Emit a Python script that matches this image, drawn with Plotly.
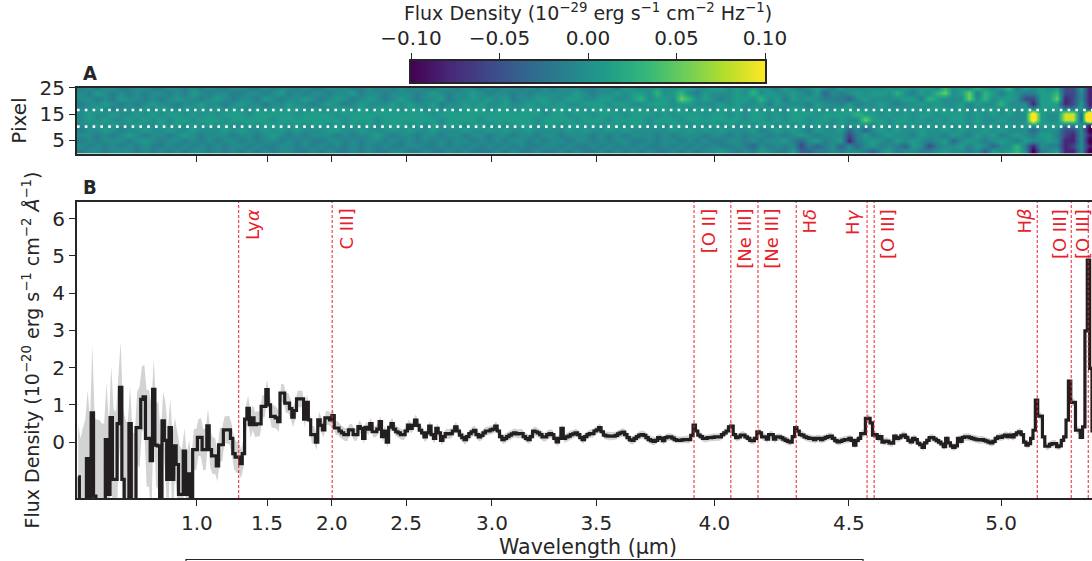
import plotly.graph_objects as go

# ---------- spectrum (one value per spectral channel) ----------
flux_a = [-0.93,-1.6,-1.6,-1.6,-0.44,-1.6,0.79,-1.45,-1.6,-1.6,
 -1.6,-1.6,0.07,-1.4,0.66,-1.0,-1.0,0.5,1.47,-1.0,
 -1.6,-1.6,0.5,-1.55,-1.55,0.39,0.39,1.15,1.22,0.1,
 0.1,-0.5,1.42,-0.08,-0.1,-1.6,0.57,0.05,-1.0,0.39,
 -1.0,-0.1,-0.6,-1.4,-1.4,-0.24,-1.4,-0.85,-1.5,-0.2]
flux_b = [-0.2,0.13,0.13,-0.2,-0.2,0.44,-0.2,-0.37,-0.37,-0.64,
 -0.07,-0.07,0.33,0.33,0.33,0.1,-0.31,-0.4,-0.4,-0.58,
 -0.31,0.62,0.91,0.47,0.65,0.47,0.49,0.49,0.96,0.96,
 1.41,1.0,0.69,0.69,0.65,0.55,1.32,1.32,1.05,1.05,
 0.9,0.67,0.85,1.16,1.16,1.16,0.62,1.07,0.6,0.2,
 0.2,0.0,0.6,0.45,0.33,0.65,0.65,0.6,0.71,0.38,
 0.38,0.3,0.25,0.2,0.2,0.33,0.33,0.2,0.2,0.42]
flux_c = [0.37,0.1,0.4,0.35,0.5,0.28,0.28,0.35,0.55,0.15,
 0.3,0.0,0.4,0.5,0.35,0.28,0.25,0.2,0.2,0.3,
 0.46,0.37,0.45,0.59,0.45,0.32,0.25,0.14,0.25,0.43,
 0.2,0.1,0.37,0.25,0.05,0.15,0.23,0.22,0.23,0.3,
 0.41,0.3,0.19,0.12,0.07,0.15,0.23,0.28,0.32,0.2,
 0.14,0.18,0.25,0.3,0.3,0.33,0.35,0.43,0.3,0.15,
 0.07,0.1,0.15,0.19,0.22,0.25,0.22,0.23,0.23,0.15,
 0.1,0.07,0.15,0.3,0.28,0.25,0.2,0.14,0.14,0.2,
 0.23,0.2,0.1,0.01,0.1,0.37,0.1,0.14,0.16,0.2,
 0.22,0.25,0.2,0.12,0.07,0.15,0.2,0.23,0.23,0.3]
flux_d = [0.33,0.39,0.28,0.19,0.17,0.16,0.16,0.16,0.18,0.22,
 0.25,0.27,0.2,0.12,0.06,0.05,0.1,0.15,0.19,0.2,
 0.18,0.12,0.07,0.04,0.02,0.05,0.12,0.1,0.04,0.12,
 0.14,0.14,0.11,0.07,0.05,0.05,0.06,0.07,0.07,0.07,
 0.18,0.46,0.3,0.19,0.15,0.1,0.1,0.12,0.12,0.13,
 0.14,0.14,0.14,0.2,0.25,0.3,0.41,0.43,0.2,0.12,
 0.14,0.19,0.19,0.14,0.1,0.05,0.04,0.1,0.28,0.25,
 0.14,0.14,0.08,0.2,0.2,0.08,0.14,0.14,0.12,0.08,
 0.05,0.02,0.0,0.15,0.39,0.3,0.2,0.19,0.14,0.12,
 0.1,0.1,0.07,0.1,0.1,0.07,0.1,0.13,0.15,0.16,
 0.1,0.04,0.01,0.02,0.05,0.07,0.07,0.1,0.05,-0.08]
flux_e = [0.05,0.1,0.23,0.23,0.64,0.64,0.52,0.19,0.2,0.1,
 0.15,0.0,0.03,0.02,-0.02,-0.03,0.16,0.1,0.12,0.17,
 0.19,0.13,0.05,0.01,0.1,0.07,-0.03,-0.07,-0.14,-0.02,
 0.05,0.12,0.12,0.08,0.04,0.0,-0.05,-0.12,0.1,-0.02,
 -0.1,-0.14,-0.1,0.1,0.02,0.13,0.14,0.14,0.12,0.1,
 0.08,0.07,0.06,0.07,0.05,0.03,0.0,-0.02,0.02,0.1,
 0.14,0.13,0.16,0.19,0.15,0.19,0.14,0.2,0.25,0.28,
 0.2,0.0,-0.08,-0.04,0.1,0.32,1.13,0.7,0.7,0.14,
 -0.11,-0.11,-0.06,-0.04,-0.04,-0.12,-0.1,0.05,0.14,0.59,
 1.64,1.07,1.07,0.32,0.32,0.13,0.41,2.99,4.89,1.98,0.3]

err_a = [1.4,1.7,2.0,2.2,1.84,2.2,1.81,2.1,2.2,2.2,
 2.1,2.1,1.53,1.9,1.39,1.9,1.8,1.3,1.23,1.9,
 2.2,2.1,1.0,1.8,1.8,0.97,1.1,0.88,0.86,1.3,
 1.3,1.5,0.81,1.1,1.2,1.7,0.79,1.0,1.3,0.79,
 1.2,0.75,0.9,1.3,1.2,0.62,1.1,0.9,1.1,0.55]
err_b = [0.55,0.49,0.52,0.55,0.55,0.45,0.5,0.5,0.48,0.42,
 0.45,0.45,0.36,0.38,0.38,0.4,0.42,0.42,0.42,0.38,
 0.38,0.34,0.34,0.36,0.34,0.34,0.34,0.33,0.3,0.3,
 0.27,0.29,0.3,0.3,0.29,0.28,0.24,0.25,0.27,0.27,
 0.26,0.26,0.25,0.22,0.22,0.22,0.24,0.22,0.24,0.24,
 0.23,0.22,0.22,0.2,0.2,0.19,0.18,0.18,0.17,0.18,
 0.18,0.18,0.17,0.17,0.17,0.16,0.16,0.16,0.16,0.16]
err_c = [0.15,0.15,0.15,0.15,0.15,0.15,0.15,0.15,0.15,0.15,
 0.15,0.15,0.15,0.15,0.14,0.14,0.14,0.14,0.14,0.14,
 0.14,0.14,0.14,0.15,0.14,0.14,0.14,0.14,0.14,0.14,
 0.13,0.13,0.13,0.13,0.13,0.13,0.13,0.13,0.13,0.13,
 0.13,0.13,0.13,0.13,0.13,0.13,0.13,0.13,0.13,0.13,
 0.12,0.12,0.12,0.12,0.12,0.12,0.12,0.13,0.12,0.12,
 0.12,0.12,0.12,0.12,0.12,0.12,0.12,0.12,0.12,0.12,
 0.12,0.12,0.12,0.12,0.12,0.12,0.12,0.12,0.12,0.12,
 0.12,0.12,0.12,0.12,0.12,0.12,0.12,0.12,0.12,0.12,
 0.11,0.11,0.11,0.11,0.11,0.11,0.11,0.11,0.11,0.11]
err_d = [0.11,0.11,0.11,0.11,0.11,0.11,0.11,0.11,0.11,0.11,
 0.11,0.11,0.11,0.11,0.11,0.11,0.11,0.11,0.11,0.11,
 0.11,0.11,0.11,0.11,0.11,0.1,0.1,0.1,0.1,0.1,
 0.1,0.1,0.1,0.1,0.1,0.1,0.1,0.1,0.1,0.1,
 0.1,0.11,0.1,0.1,0.1,0.1,0.1,0.1,0.1,0.1,
 0.1,0.1,0.1,0.1,0.1,0.11,0.11,0.11,0.1,0.1,
 0.1,0.1,0.1,0.1,0.1,0.1,0.1,0.1,0.1,0.1,
 0.1,0.1,0.1,0.1,0.1,0.1,0.1,0.1,0.1,0.1,
 0.1,0.1,0.1,0.1,0.11,0.1,0.1,0.1,0.1,0.1,
 0.1,0.1,0.1,0.1,0.1,0.1,0.1,0.1,0.1,0.1,
 0.1,0.1,0.1,0.1,0.1,0.1,0.1,0.1,0.1,0.1]
err_e = [0.1,0.1,0.1,0.1,0.11,0.11,0.1,0.1,0.1,0.1,
 0.1,0.1,0.1,0.1,0.1,0.1,0.1,0.1,0.1,0.1,
 0.1,0.1,0.1,0.1,0.1,0.1,0.1,0.1,0.1,0.1,
 0.1,0.1,0.1,0.1,0.1,0.1,0.1,0.1,0.1,0.1,
 0.1,0.1,0.1,0.1,0.1,0.1,0.1,0.1,0.1,0.1,
 0.1,0.1,0.1,0.1,0.1,0.1,0.1,0.1,0.1,0.1,
 0.1,0.1,0.1,0.1,0.1,0.1,0.1,0.1,0.1,0.1,
 0.1,0.1,0.1,0.1,0.1,0.1,0.11,0.1,0.1,0.1,
 0.1,0.1,0.1,0.1,0.1,0.1,0.1,0.1,0.1,0.1,
 0.11,0.1,0.1,0.1,0.1,0.1,0.1,0.11,0.11,0.11,0.1]

flux = flux_a + flux_b + flux_c + flux_d + flux_e
err = err_a + err_b + err_c + err_d + err_e

# ---------- x axis ticks (spectral channel -> wavelength label) ----------
tick_channels = [50.8, 80.5, 108, 139.4, 175.8, 220, 270, 327, 391.5]
tick_labels = ["1.0", "1.5", "2.0", "2.5", "3.0", "3.5", "4.0", "4.5", "5.0"]

# ---------- emission lines ----------
line_names = ["Ly<i>α</i>", "C III]", "[O II]", "[Ne III]", "[Ne III]", "H<i>δ</i>",
              "H<i>γ</i>", "[O III]", "H<i>β</i>", "[O III]", "[O III]"]
line_channels = [68.5, 108.1, 261.4, 277, 288.5, 304.7, 334.7, 337.7, 406.8, 421.2, 428.4]
line_label_side = [14, 14, 14, 14, 14, 13, -14, 14, -13, -11, -5]

# ---------- 2D spectrum, coarse cells ----------
# one character per cell; rows run from pixel 25 down to pixel 1
cell_levels = {"0": -0.11, "1": -0.08, "2": -0.055, "3": -0.035, "4": -0.014, "5": -0.002, "6": 0.01,
               "7": 0.03, "8": 0.055, "9": 0.085, "a": 0.1, "c": 0.13, "e": 0.16, "f": 0.2}
cell_rows = [
 "4545544554 4554545445 5445455454 4555445454 5454455455 4545545454 5554455465 5565566556 6565655465 4565465555 5656566575 6576567465 6562261",
 "5465454545 5454654554 4554564545 5455645545 5545654556 5455454555 5565455656 6575675465 5565756556 5463545656 6575465785 6847646544 6672251",
 "5545465545 4565545654 5546545565 4565456545 6545564556 5656455665 5665566556 7566587565 4566575646 5654443565 5556647655 5857566522 6681251",
 "4556545456 5545565545 6554556554 5654565556 5655645565 6556556565 6556665665 5666566555 6565564655 5465546455 6545565655 6465575551 6661261",
 "5565455565 6556565656 5565656656 5566565666 5665656566 6566566656 6665666566 6566665665 6665656556 6565566565 6565656665 6556656565 6664462",
 "5655655656 5665656566 6566666566 6656666666 6666566666 6666666656 6566566656 6656566656 6565665656 6656666766 5656566566 656565655c 65599 3f".replace(" 3f", "3f"),
 "5656556565 6566566656 6666566666 6665666566 6666656666 5666666566 6656665666 6566656666 6665665656 6566565586 6566565656 656556555c 65599 3f".replace(" 3f", "3f"),
 "5565655655 6565656565 5656665656 6565656566 6565656656 6565666566 5665656656 6565665656 5656566565 6565565655 6565656565 6565656566 6664461",
 "4556545565 5655655565 6556565655 5665565556 5655655565 5656556555 5656556565 5555656565 6555645656 5465563535 6565565565 6556565553 5552250",
 "5545456545 5456545554 5545654545 5545455654 5545545545 5455455455 4555454545 5545455545 5454554545 6545552464 5655465546 5465645654 6642151",
 "4545554565 4554545455 4545545454 4554545545 4545454554 5454554545 5455454554 4545545454 4554545564 3564561456 5465654563 5654565465 5651150",
 "5454545454 4545454545 5454455454 5454545454 4554454545 4545454455 4544545454 5445454545 4454354545 2434535356 4543652455 6465355741 5441251",
 "4554555454 5454554545 4545455445 4544545445 5445445454 4454544544 5454454545 4544545455 6545465446 3344545543 5645544565 5453656750 4561150",
]
cell_pixel = [25, 23, 21, 19, 17, 15, 13, 11, 9, 7, 5, 3, 1]
cell_channel_step = 3.39
extraction_pixels = [16.5, 10.2]

colorbar_ticks = [-0.10, -0.05, 0.00, 0.05, 0.10]
colorbar_labels = ["−0.10", "−0.05", "0.00", "0.05", "0.10"]

# ---------- derived ----------
N_CELLS = 127
z = []
for r in cell_rows:
    s = r.replace(" ", "").ljust(N_CELLS, "5")[:N_CELLS]
    z.append([cell_levels[c] for c in s])
cell_x = [(k + 0.5) * cell_channel_step for k in range(N_CELLS)]
chan = [i + 0.5 for i in range(len(flux))]
upper = [f + e for f, e in zip(flux, err)]
lower = [f - e for f, e in zip(flux, err)]
bar_levels = [-0.1 + 0.2 * k / 255 for k in range(256)]

W, H = 1092, 561
INK = "#262626"
FONT = "DejaVu Sans"
XMAX = 430
TICK = 20

fig = go.Figure()
fig.add_trace(go.Heatmap(
    x=cell_x, y=cell_pixel, z=z, zmin=-0.1, zmax=0.1, colorscale="Viridis", zsmooth="best",
    xaxis="x", yaxis="y", hoverinfo="skip", showscale=False))
for p in extraction_pixels:
    fig.add_trace(go.Scatter(x=[0, XMAX], y=[p, p], mode="lines", xaxis="x", yaxis="y",
                             line=dict(color="white", width=2.6, dash="2.6px,5.2px"), hoverinfo="skip", showlegend=False))
fig.add_trace(go.Scatter(
    x=chan + chan[::-1], y=upper + lower[::-1], mode="lines", fill="toself",
    fillcolor="#d2d3d5", line=dict(width=0), xaxis="x2", yaxis="y2", hoverinfo="skip", showlegend=False))
fig.add_trace(go.Scatter(
    x=chan, y=flux, mode="lines", line=dict(color="#231f20", width=3.2, shape="hvh"),
    xaxis="x2", yaxis="y2", showlegend=False))
fig.add_trace(go.Heatmap(
    x=bar_levels, y=[0, 1], z=[bar_levels, bar_levels], zmin=-0.1, zmax=0.1, colorscale="Viridis",
    xaxis="x3", yaxis="y3", hoverinfo="skip", showscale=False))

for c in line_channels:
    fig.add_shape(type="line", xref="x2", yref="y2 domain", x0=c, x1=c, y0=0, y1=1,
                  line=dict(color="#e8202a", width=1, dash="3px,2px"))

annotations = []
for name, c, side in zip(line_names, line_channels, line_label_side):
    annotations.append(dict(text=name, x=c, y=6.32, xref="x2", yref="y2", xshift=side, textangle=-90,
                            xanchor="center", yanchor="top", showarrow=False,
                            font=dict(family=FONT, size=18, color="#e8202a")))
for letter, ypx in (("A", 73), ("B", 187)):
    annotations.append(dict(text=f"<b>{letter}</b>", x=81 / W, y=1 - ypx / H, xref="paper", yref="paper",
                            xanchor="left", yanchor="middle", showarrow=False,
                            font=dict(family="DejaVu Sans Condensed, Roboto, sans-serif", size=20, color=INK)))
annotations.append(dict(text="Wavelength (µm)", x=588 / W, y=1 - 547 / H, xref="paper", yref="paper",
                        xanchor="center", yanchor="middle", showarrow=False,
                        font=dict(family=FONT, size=20.6, color=INK)))

# box of the panel that follows, cut by the lower edge of the picture
fig.add_shape(type="rect", xref="paper", yref="paper", x0=186 / W, x1=863 / W, y0=-0.02, y1=1 - 559.5 / H,
              line=dict(color=INK, width=1.2))

ax_common = dict(showline=True, linecolor=INK, linewidth=2, ticks="outside", ticklen=6, tickwidth=1.3,
                 tickcolor=INK, showgrid=False, zeroline=False, color=INK,
                 tickfont=dict(family=FONT, size=TICK, color=INK))
fig.update_layout(
    width=W, height=H, autosize=False, margin=dict(l=0, r=0, t=0, b=0, autoexpand=False),
    paper_bgcolor="white", plot_bgcolor="white", showlegend=False,
    font=dict(family=FONT, color=INK),
    xaxis=dict(domain=[77 / W, 1], range=[0, XMAX], anchor="y", tickmode="array", tickvals=tick_channels,
               showticklabels=False, mirror=True, **ax_common),
    yaxis=dict(domain=[1 - 153.5 / H, 1 - 87.7 / H], range=[0, 25], anchor="x", tickmode="array",
               tickvals=[5, 15, 25], title=dict(text="Pixel", font=dict(family=FONT, size=20, color=INK), standoff=8),
               **ax_common),
    xaxis2=dict(domain=[77 / W, 1], range=[0, XMAX], anchor="y2", tickmode="array", tickvals=tick_channels,
                ticktext=tick_labels, mirror=True, **ax_common),
    yaxis2=dict(domain=[1 - 498 / H, 1 - 202 / H], range=[-1.5, 6.45], anchor="x2", tickmode="array",
                tickvals=[0, 1, 2, 3, 4, 5, 6],
                title=dict(text="Flux Density (10<sup>−20</sup> erg s<sup>−1</sup> cm<sup>−2</sup> <i>Å</i><sup>−1</sup>)",
                           font=dict(family=FONT, size=19, color=INK), standoff=8),
                **ax_common),
    xaxis3=dict(domain=[411 / W, 765 / W], range=[-0.1, 0.1], anchor="y3", side="top", tickmode="array",
                tickvals=colorbar_ticks, ticktext=colorbar_labels, mirror=True,
                title=dict(text="Flux Density (10<sup>−29</sup> erg s<sup>−1</sup> cm<sup>−2</sup> Hz<sup>−1</sup>)",
                           font=dict(family=FONT, size=19, color=INK), standoff=4),
                **ax_common),
    yaxis3=dict(domain=[1 - 82 / H, 1 - 61 / H], range=[0, 1], anchor="x3", showticklabels=False, ticks="",
                showline=True, linecolor=INK, linewidth=1.5, mirror=True, showgrid=False, zeroline=False),
    annotations=annotations,
)

fig.write_html("out.html", config={"displayModeBar": False},
               post_script="document.body.style.margin='0';document.body.style.overflow='hidden';")
